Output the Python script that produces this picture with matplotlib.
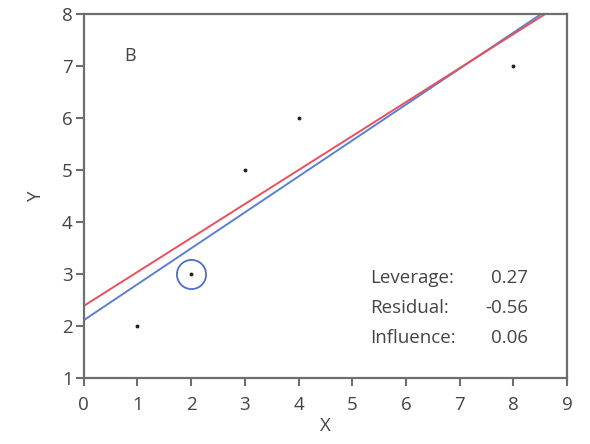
import matplotlib
matplotlib.use("Agg")
import matplotlib.pyplot as plt
import numpy as np

plt.rcParams['font.family'] = ['Open Sans', 'DejaVu Sans']

## Data
x_pts = np.array([1, 2, 3, 4, 8])
y_pts = np.array([2, 3, 5, 6, 7])
flagged = 1  # index of the circled point (2, 3)

stats_names = ["Leverage:", "Residual:", "Influence:"]
stats_vals = ["0.27", "-0.56", "0.06"]

## Fits: blue with all points, red without the circled one
b_all, a_all = np.polyfit(x_pts, y_pts, 1)
mask = np.arange(len(x_pts)) != flagged
b_red, a_red = np.polyfit(x_pts[mask], y_pts[mask], 1)

xx = np.linspace(0, 9, 200)

fig = plt.figure(figsize=(5.9, 4.44), dpi=100)
ax = fig.add_axes([0.142, 0.149, 0.819, 0.819])

grey = "#6e6e6e"
txt = "#444444"
ax.plot(xx, a_all + b_all * xx, color="#5b80d2", lw=1.4)
ax.plot(xx, a_red + b_red * xx, color="#e9505c", lw=1.4)
ax.plot(x_pts, y_pts, "o", color="#222222", ms=1.8)
ax.plot(x_pts[flagged], y_pts[flagged], "o", ms=21, mfc="none",
        mec="#4d6fc4", mew=1.3)

ax.text(0.75, 7.2, "B", fontsize=13, color=txt, va="center")
for i in range(3):
    yy = 2.92 - i * 0.575
    ax.text(5.33, yy, stats_names[i], fontsize=13.5, color=txt, va="center")
    ax.text(8.27, yy, stats_vals[i], fontsize=13.5, color=txt,
            va="center", ha="right")

ax.set_xlim(0, 9)
ax.set_ylim(1, 8)
ax.set_xticks(range(0, 10))
ax.set_yticks(range(1, 9))
ax.tick_params(direction="out", length=6, width=1.5, color=grey,
               labelsize=13.5, labelcolor=txt, pad=2)
ax.tick_params(axis="x", pad=7)
for s in ax.spines.values():
    s.set_color(grey)
    s.set_linewidth(1.6)
ax.set_xlabel("X", fontsize=13.5, color=txt, labelpad=2)
ax.set_ylabel("Y", fontsize=13.5, color=txt, labelpad=12)

fig.savefig("out.png", dpi=100)
